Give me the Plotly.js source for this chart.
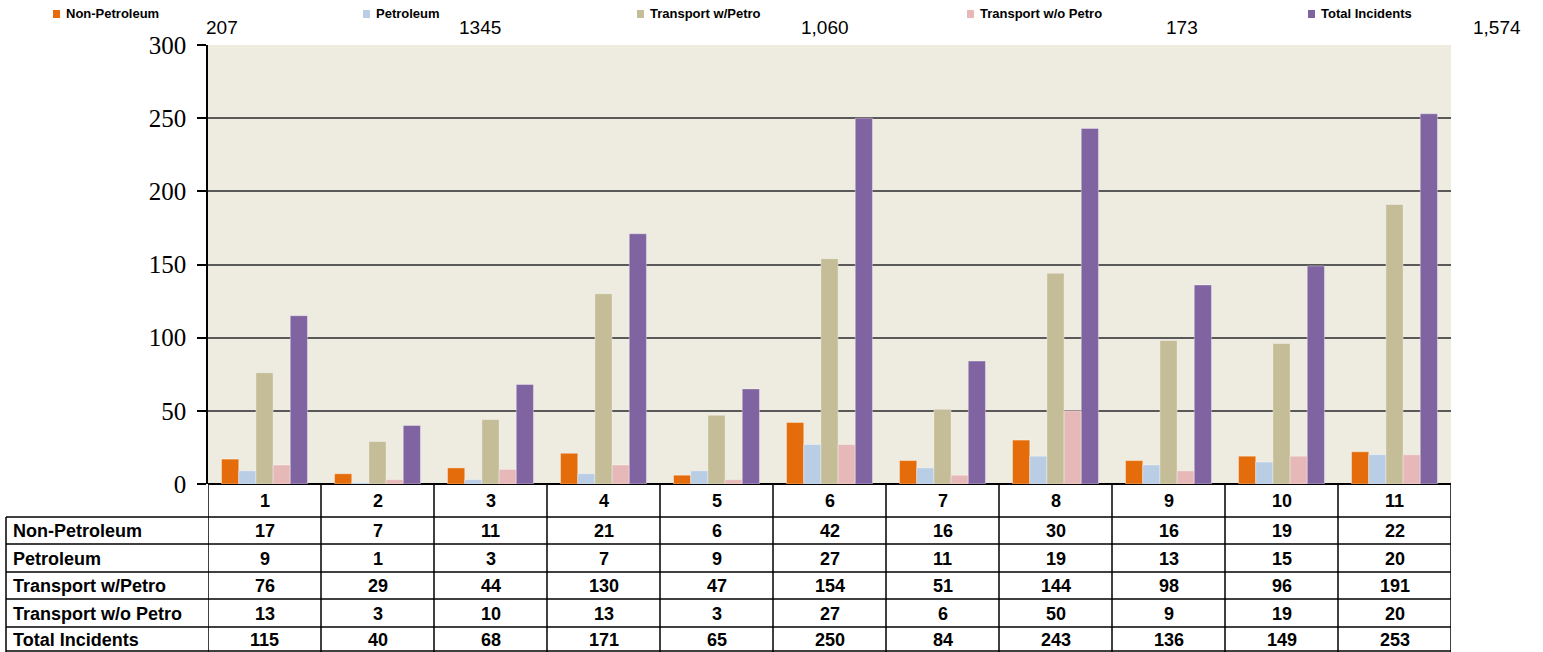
<!DOCTYPE html>
<html>
<head>
<meta charset="utf-8">
<script src="https://cdn.plot.ly/plotly-3.0.1.min.js"></script>
<style>html,body{margin:0;padding:0;background:#fff;}#chart{width:1543px;height:652px;}</style>
</head>
<body>
<div id="chart"></div>
<script>
// ---- data ----
const categories = ['1','2','3','4','5','6','7','8','9','10','11'];
const seriesNames = ['Non-Petroleum','Petroleum','Transport w/Petro','Transport w/o Petro','Total Incidents'];
const nonPetroleum = [17, 7, 11, 21, 6, 42, 16, 30, 16, 19, 22];
const petroleum = [9, 1, 3, 7, 9, 27, 11, 19, 13, 15, 20];
const transportWithPetro = [76, 29, 44, 130, 47, 154, 51, 144, 98, 96, 191];
const transportWithoutPetro = [13, 3, 10, 13, 3, 27, 6, 50, 9, 19, 20];
const totalIncidents = [115, 40, 68, 171, 65, 250, 84, 243, 136, 149, 253];
const totalsLabels = ['207', '1345', '1,060', '173', '1,574'];
const yTicks = [0, 50, 100, 150, 200, 250, 300];

// ---- styles / geometry ----
const colors = ['#E46C0A', '#B9CDE5', '#C4BD97', '#E6B9B8', '#8064A2'];
const W = 1543, Hh = 652;
const L = 208, R = 1451, T = 45, B = 484;
const PW = R - L, PH = B - T;
const px2x = p => (p - L) / PW;
const py2y = p => (B - p) / PH;
const sans = 'Liberation Sans, Arial, sans-serif';

const series = [nonPetroleum, petroleum, transportWithPetro, transportWithoutPetro, totalIncidents];

const traces = series.map((vals, i) => ({
  type: 'bar', name: seriesNames[i], x: categories, y: vals,
  marker: {color: colors[i], line: {color: 'rgba(255,255,255,0.35)', width: 1}},
  hoverinfo: 'x+y+name'
}));

const shapes = [];
const annotations = [];

// legend (manual, irregular spacing)
const legendSquareX = [53, 363, 637, 967, 1308];
const legendY = 14;
seriesNames.forEach((n, i) => {
  shapes.push({type: 'rect', xref: 'paper', yref: 'paper',
    x0: px2x(legendSquareX[i]), x1: px2x(legendSquareX[i] + 7),
    y0: py2y(legendY + 4), y1: py2y(legendY - 4),
    fillcolor: colors[i], line: {width: 0}});
  annotations.push({xref: 'paper', yref: 'paper', x: px2x(legendSquareX[i] + 11), y: py2y(legendY),
    xanchor: 'left', yanchor: 'middle', showarrow: false, text: '<b>' + n + '</b>',
    font: {family: sans, size: 13, color: '#000'}});
});

// totals labels
const totalsX = [222, 480, 825, 1182, 1497];
totalsLabels.forEach((t, i) => {
  annotations.push({xref: 'paper', yref: 'paper', x: px2x(totalsX[i]), y: py2y(27),
    xanchor: 'center', yanchor: 'middle', showarrow: false, text: t,
    font: {family: sans, size: 19, color: '#000'}});
});

// data table
const rowLines = [517, 544, 572, 599, 627, 651];
const rowCenters = [531, 558.5, 586, 613.5, 640];
const headerCenter = 501;
const tableLeft = 6;
const lineStyle = {color: '#000', width: 1.5};

// vertical column separators
for (let k = 0; k <= categories.length; k++) {
  shapes.push({type: 'line', xref: 'x', yref: 'paper', x0: k - 0.5, x1: k - 0.5,
    y0: 0, y1: py2y(652), line: lineStyle});
}
// left edge of label column
shapes.push({type: 'line', xref: 'paper', yref: 'paper', x0: px2x(tableLeft), x1: px2x(tableLeft),
  y0: py2y(rowLines[0]), y1: py2y(652), line: lineStyle});
// horizontal row lines
rowLines.forEach(p => {
  shapes.push({type: 'line', xref: 'paper', yref: 'paper', x0: px2x(tableLeft), x1: 1,
    y0: py2y(p), y1: py2y(p), line: {color: '#000', width: 1.5}});
});
// header labels (category index positions)
categories.forEach((c, j) => {
  annotations.push({xref: 'x', yref: 'paper', x: j, y: py2y(headerCenter), showarrow: false,
    xanchor: 'center', yanchor: 'middle', text: '<b>' + c + '</b>',
    font: {family: sans, size: 18, color: '#000'}});
});
// rows
series.forEach((vals, r) => {
  annotations.push({xref: 'paper', yref: 'paper', x: px2x(tableLeft + 5), y: py2y(rowCenters[r]),
    xanchor: 'left', yanchor: 'middle', showarrow: false, text: '<b>' + seriesNames[r] + '</b>',
    font: {family: sans, size: 18, color: '#000'}});
  vals.forEach((v, j) => {
    annotations.push({xref: 'x', yref: 'paper', x: j, y: py2y(rowCenters[r]),
      xanchor: 'center', yanchor: 'middle', showarrow: false, text: '<b>' + v + '</b>',
      font: {family: sans, size: 18, color: '#000'}});
  });
});

const layout = {
  width: W, height: Hh,
  margin: {l: L, r: W - R, t: T, b: Hh - B, pad: 0},
  paper_bgcolor: '#ffffff',
  plot_bgcolor: '#EEECE1',
  showlegend: false,
  barmode: 'group', bargap: 0.24, bargroupgap: 0,
  xaxis: {type: 'category', range: [-0.5, categories.length - 0.5], showticklabels: false,
    ticks: '', showgrid: false, zeroline: false, showline: false, fixedrange: true},
  yaxis: {range: [0, 300], tickvals: yTicks, ticktext: yTicks.map(String),
    ticks: 'outside', ticklen: 9, tickwidth: 1.5, tickcolor: '#000',
    showline: true, linecolor: '#000', linewidth: 1.5,
    showgrid: true, gridcolor: '#595959', gridwidth: 1.5,
    zeroline: true, zerolinecolor: '#000', zerolinewidth: 1.5,
    tickfont: {family: 'Liberation Serif, Times New Roman, serif', size: 25, color: '#000'},
    ticklabelstandoff: 6, fixedrange: true},
  shapes: shapes,
  annotations: annotations
};

Plotly.newPlot('chart', traces, layout, {displayModeBar: false, staticPlot: false});
</script>
</body>
</html>
